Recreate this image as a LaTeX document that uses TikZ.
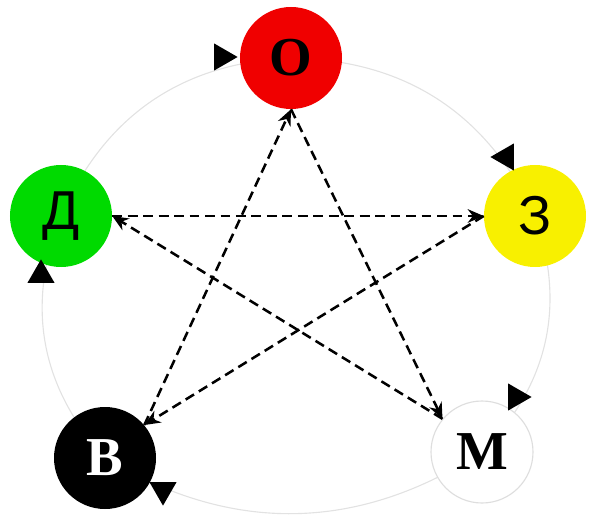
\documentclass[tikz,border=0pt]{standalone}
\usepackage{fontspec}
\setmainfont{Liberation Serif}
\newfontfamily\lsans{Liberation Sans}
\usetikzlibrary{arrows.meta,shapes.geometric,backgrounds}
\definecolor{ored}{RGB}{240,0,0}
\definecolor{zyellow}{RGB}{248,240,0}
\definecolor{dgreen}{RGB}{0,218,0}
\definecolor{mgray}{RGB}{222,222,222}
\definecolor{ringgray}{RGB}{226,226,226}

\begin{document}
\begin{tikzpicture}[font=\fontsize{39}{41}\selectfont\bfseries,
  elem/.style={circle, minimum size=2.55cm, inner sep=0pt},
  sansletter/.style={font=\lsans\fontsize{39}{41}\selectfont},
  rel/.style={-{Stealth[length=4mm, width=3.4mm]}, line width=1.8pt, dash pattern=on 7pt off 4pt},
  ring/.style={draw=ringgray, line width=0.8pt},
  tip/.style={regular polygon, regular polygon sides=3, fill=black, minimum size=0.78cm, inner sep=0pt}]
\useasboundingbox (0,0) rectangle (14.725,13.1);
\node[elem, fill=ored] (o) at (7.275,11.65) {О};
\node[elem, fill=zyellow, sansletter] (z) at (13.375,7.7) {З};
\node[elem, fill=white, draw=mgray, line width=0.8pt] (m) at (12.05,1.8) {М};
\node[elem, fill=black, text=white] (v) at (2.625,1.65) {В};
\node[elem, fill=dgreen, sansletter] (d) at (1.525,7.7) {Д};
% outer ring
\begin{scope}[on background layer]
\draw[ring] (o.center) to[bend left=32] (z.center);
\draw[ring] (z.center) to[bend left=32] (m.center);
\draw[ring] (m.center) to[bend left=32] (v.center);
\draw[ring] (v.center) to[bend left=32] (d.center);
\draw[ring] (d.center) to[bend left=32] (o.center);
\end{scope}
\node[tip, rotate=-90] (to) at (5.55,11.675) {};
\node[tip, rotate=90] (tz) at (12.65,9.175) {};
\node[tip, rotate=-90] (tm) at (12.9,3.175) {};
\node[tip, rotate=180] (tv) at (4.075,0.85) {};
\node[tip] (td) at (1.025,6.225) {};
% star
\draw[rel] (o.south) -- (m.140);
\draw[rel] (m.140) -- (d.east);
\draw[rel] (d.east) -- (z.west);
\draw[rel] (z.west) -- (v.40);
\draw[rel] (v.40) -- (o.south);
\end{tikzpicture}
\end{document}
